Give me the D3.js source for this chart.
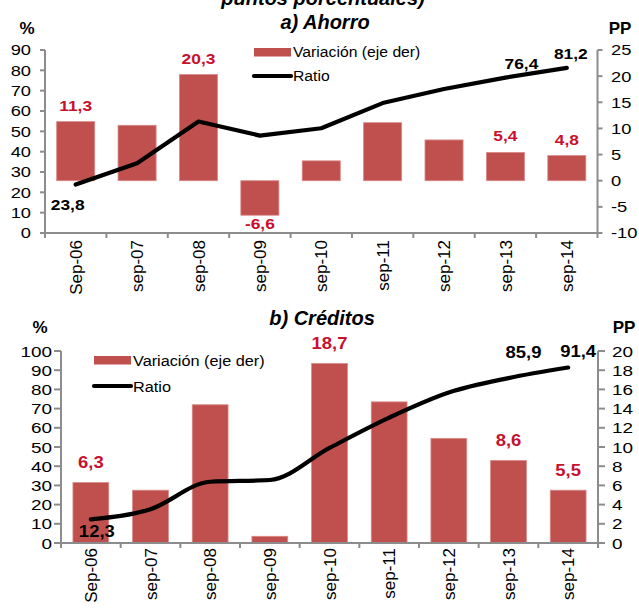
<!DOCTYPE html>
<html>
<head>
<meta charset="utf-8">
<script src="https://cdn.jsdelivr.net/npm/d3@7"></script>
<style>
  html, body { margin: 0; padding: 0; background: #fff; }
  svg { display: block; font-family: "Liberation Sans", Arial, sans-serif; }
</style>
</head>
<body>
<svg id="chart" width="639" height="612"></svg>
<script>
// Periods shown on both panels
const categories = ["Sep-06", "sep-07", "sep-08", "sep-09", "sep-10", "sep-11", "sep-12", "sep-13", "sep-14"];

// a) Ahorro: yearly change (pp, right axis) and ratio (%, left axis)
const ahorroVariacion = [11.3, 10.6, 20.3, -6.6, 3.8, 11.1, 7.8, 5.4, 4.8];
const ahorroRatio = [23.8, 34.3, 54.8, 47.9, 51.5, 63.9, 70.8, 76.4, 81.2];

// b) Créditos: yearly change (pp, right axis) and ratio (%, left axis)
const creditosVariacion = [6.3, 5.5, 14.4, 0.7, 18.7, 14.7, 10.9, 8.6, 5.5];
const creditosRatio = [12.3, 17.6, 31.9, 32.8, 49.5, 65.3, 78.4, 85.9, 91.4];

// Axis tick values
const ahorroLeftTicks = [0, 10, 20, 30, 40, 50, 60, 70, 80, 90];
const ahorroRightTicks = [-10, -5, 0, 5, 10, 15, 20, 25];
const creditosLeftTicks = [0, 10, 20, 30, 40, 50, 60, 70, 80, 90, 100];
const creditosRightTicks = [0, 2, 4, 6, 8, 10, 12, 14, 16, 18, 20];

// Indices of the values that carry a data label
const ahorroBarLabels = [0, 2, 3, 7, 8];
const ahorroLineLabels = [0, 7, 8];
const creditosBarLabels = [0, 4, 7, 8];
const creditosLineLabels = [0, 7, 8];

const BAR = "#C0504D";
const LABEL_RED = "#C8102E";
const AXIS = "#8c8c8c";
const fmt = v => String(v).replace(".", ",");

const svg = d3.select("#chart");
svg.append("rect").attr("width", 639).attr("height", 612).attr("fill", "#fff");

// Text with a slight horizontal stretch, as in the original typesetting
function wideText(g, x, y, str, opts) {
  const sx = opts.sx || 1;
  const t = g.append("text")
    .attr("transform", `translate(${x},${y}) scale(${sx},1)`)
    .attr("text-anchor", opts.anchor || "middle")
    .attr("font-size", opts.size || 15)
    .attr("font-weight", opts.weight || "normal")
    .attr("font-style", opts.style || "normal")
    .attr("fill", opts.fill || "#000")
    .text(str);
  if (opts.dy) t.attr("dy", opts.dy);
  return t;
}

function panel(cfg) {
  const g = svg.append("g");
  const x = d3.scaleBand().domain(categories).range([cfg.x0, cfg.x1])
    .paddingInner(cfg.pad).paddingOuter(cfg.pad / 2);
  const yL = d3.scaleLinear().domain(cfg.leftDomain).range([cfg.yBottom, cfg.yTop]);
  const yR = d3.scaleLinear().domain(cfg.rightDomain).range([cfg.yBottom, cfg.yTop]);

  // bars (right axis)
  g.selectAll("rect.bar").data(cfg.bars).join("rect")
    .attr("class", "bar")
    .attr("x", (d, i) => x(categories[i]))
    .attr("width", x.bandwidth())
    .attr("y", d => Math.min(yR(d), yR(0)))
    .attr("height", d => Math.abs(yR(d) - yR(0)))
    .attr("fill", BAR)
    .attr("stroke", "#d98a88").attr("stroke-width", 0.8);

  // axes
  const ax = g.append("g").attr("stroke", AXIS).attr("stroke-width", 2).attr("fill", "none");
  ax.append("line").attr("x1", cfg.x0).attr("x2", cfg.x0).attr("y1", cfg.yTop).attr("y2", cfg.yBottom);
  ax.append("line").attr("x1", cfg.x1).attr("x2", cfg.x1).attr("y1", cfg.yTop).attr("y2", cfg.yBottom);
  ax.append("line").attr("x1", cfg.x0).attr("x2", cfg.x1).attr("y1", cfg.yBottom).attr("y2", cfg.yBottom);
  cfg.leftTicks.forEach(t => ax.append("line")
    .attr("x1", cfg.x0 - cfg.tick).attr("x2", cfg.x0).attr("y1", yL(t)).attr("y2", yL(t)));
  cfg.rightTicks.forEach(t => ax.append("line")
    .attr("x1", cfg.x1).attr("x2", cfg.x1 + cfg.tick).attr("y1", yR(t)).attr("y2", yR(t)));
  d3.range(categories.length + 1).forEach(i => {
    const xx = cfg.x0 + i * x.step();
    ax.append("line").attr("x1", xx).attr("x2", xx).attr("y1", cfg.yBottom).attr("y2", cfg.yBottom + 5);
  });

  // tick labels
  cfg.leftTicks.forEach(t => wideText(g, cfg.leftLabelX, yL(t), t, { anchor: "end", size: cfg.tickSize, sx: 1.22, dy: "0.36em" }));
  cfg.rightTicks.forEach(t => wideText(g, cfg.rightLabelX, yR(t), t, { anchor: "start", size: cfg.tickSize, sx: 1.22, dy: "0.36em" }));

  categories.forEach(c => {
    const cx = x(c) + x.bandwidth() / 2;
    g.append("text")
      .attr("transform", `translate(${cx},${cfg.yBottom + cfg.catGap}) rotate(-90)`)
      .attr("text-anchor", "end").attr("dy", "0.36em")
      .attr("font-size", cfg.catSize).text(c);
  });

  // ratio line (left axis)
  const line = d3.line()
    .x((d, i) => x(categories[i]) + x.bandwidth() / 2)
    .y(d => yL(d))
    .curve(cfg.curve);
  g.append("path").datum(cfg.line).attr("d", line)
    .attr("fill", "none").attr("stroke", "#000").attr("stroke-width", 4.2)
    .attr("stroke-linejoin", "round").attr("stroke-linecap", "round");

  // data labels
  cfg.barLabels.forEach(i => {
    const v = cfg.bars[i];
    const cx = x(categories[i]) + x.bandwidth() / 2;
    const yy = v >= 0 ? yR(v) - cfg.barLabelGap : yR(v) + 13.5;
    wideText(g, cx, yy, fmt(v), { size: cfg.labelSize, weight: "bold", fill: LABEL_RED, sx: 1.12 });
  });
  cfg.lineLabels.forEach((i, k) => {
    const v = cfg.line[i];
    const cx = x(categories[i]) + x.bandwidth() / 2 + cfg.lineLabelOffsets[k][0];
    wideText(g, cx, yL(v) + cfg.lineLabelOffsets[k][1], fmt(v), { size: cfg.labelSize, weight: "bold", sx: 1.12 });
  });

  // legend
  const lg = g.append("g");
  lg.append("rect").attr("x", cfg.legX).attr("y", cfg.legY - 4).attr("width", 37).attr("height", 8.5).attr("fill", BAR);
  lg.append("line").attr("x1", cfg.legX).attr("x2", cfg.legX + 37)
    .attr("y1", cfg.legY + cfg.legGap).attr("y2", cfg.legY + cfg.legGap)
    .attr("stroke", "#000").attr("stroke-width", 4.2).attr("stroke-linecap", "round");
  wideText(lg, cfg.legX + 39, cfg.legY, "Variación (eje der)", { anchor: "start", size: cfg.legSize, dy: "0.36em", sx: 1.05 });
  wideText(lg, cfg.legX + 39, cfg.legY + cfg.legGap, "Ratio", { anchor: "start", size: cfg.legSize, dy: "0.36em", sx: 1.05 });

  // titles
  wideText(g, cfg.titleX, cfg.titleY, cfg.title, { size: 20, weight: "bold", style: "italic" });
  wideText(g, cfg.pctX, cfg.unitY, "%", { size: 17, weight: "bold" });
  wideText(g, cfg.ppX, cfg.unitY, "PP", { size: 17, weight: "bold" });
}

// partially visible heading above the panels
wideText(svg, 323, 5, "puntos porcentuales)", { size: 20, weight: "bold", style: "italic" });

panel({
  title: "a) Ahorro", titleX: 325, titleY: 29,
  x0: 45, x1: 597.5, yTop: 50, yBottom: 233, pad: 0.38, tick: 5,
  leftDomain: [0, 90], rightDomain: [-10, 25],
  leftTicks: ahorroLeftTicks, rightTicks: ahorroRightTicks,
  leftLabelX: 31, rightLabelX: 611, tickSize: 15,
  catGap: 7, catSize: 17,
  bars: ahorroVariacion, line: ahorroRatio, curve: d3.curveLinear,
  barLabels: ahorroBarLabels, lineLabels: ahorroLineLabels,
  barLabelGap: 11, labelSize: 15.5,
  lineLabelOffsets: [[-8, 25.5], [16, -8.5], [4, -8.7]],
  legX: 254, legY: 52, legGap: 24, legSize: 15,
  pctX: 27, ppX: 620, unitY: 34
});

panel({
  title: "b) Créditos", titleX: 322, titleY: 325,
  x0: 61, x1: 598, yTop: 351, yBottom: 543, pad: 0.4, tick: 7,
  leftDomain: [0, 100], rightDomain: [0, 20],
  leftTicks: creditosLeftTicks, rightTicks: creditosRightTicks,
  leftLabelX: 52, rightLabelX: 612, tickSize: 15.5,
  catGap: 5, catSize: 17,
  bars: creditosVariacion, line: creditosRatio, curve: d3.curveMonotoneX,
  barLabels: creditosBarLabels, lineLabels: creditosLineLabels,
  barLabelGap: 14.5, labelSize: 16.5,
  lineLabelOffsets: [[6, 17.6], [15, -19.7], [10, -10.5]],
  legX: 94, legY: 360, legGap: 26, legSize: 15.5,
  pctX: 40, ppX: 624, unitY: 333
});
</script>
</body>
</html>
